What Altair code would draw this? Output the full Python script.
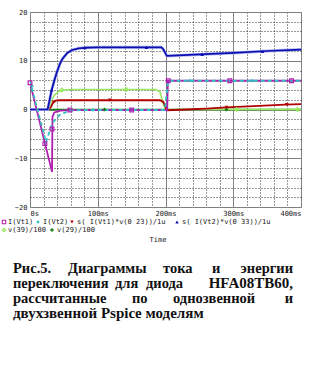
import altair as alt
import pandas as pd

# ---------------- data ----------------
# I(Vt1)  (magenta, squares)
t_i1 = [0, 32.5, 33.2, 36, 45, 60, 100, 150, 202.5, 203.5, 400]
v_i1 = [5.5, -12.8, -1.5, -0.6, -0.25, -0.12, -0.1, -0.1, -0.1, 5.9, 5.9]
# I(Vt2)  (cyan, dashed)
t_i2 = [0, 23.6, 29.5, 34, 44, 59, 80, 199, 204, 400]
v_i2 = [5.8, -6.7, -4.2, -2.6, -1.1, -0.2, -0.1, -0.1, 5.9, 5.9]
# s( I(Vt1)*v(0 23))/1u  (dark red)
t_e1 = [0, 27, 31, 34, 38, 44, 192, 197, 202, 230, 260, 290, 330, 376, 400]
v_e1 = [0, 0, 0.5, 1.4, 1.8, 1.9, 1.9, 1.5, -0.15, 0.0, 0.2, 0.45, 0.7, 1.0, 1.1]
# s( I(Vt2)*v(0 33))/1u  (blue)
t_e2 = [0, 26, 29, 32, 36, 40, 44, 48, 55, 62, 72, 85, 100, 194, 197, 202, 250, 300, 350, 400]
v_e2 = [0, 0, 2, 4, 6, 7.8, 9.3, 10.4, 11.6, 12.2, 12.55, 12.7, 12.75, 12.75, 12.3, 11.0, 11.3, 11.6, 12.0, 12.3]
# v(39)/100  (light green)
t_v39 = [0, 27, 31, 36, 42, 50, 60, 186, 192, 196, 200, 400]
v_v39 = [0, 0, 1.5, 3.0, 3.7, 4.0, 4.1, 4.1, 3.6, 1.5, 0, 0]
# v(29)/100  (dark green)
t_v29 = [0, 100, 200, 300, 400]
v_v29 = [0, 0, 0, 0, 0]

# marker positions on the traces
mk_i1_t = [0, 22, 32.5, 59, 150, 204, 295, 386]
mk_i1_v = [5.5, -7.0, -4.0, -0.1, -0.1, 5.9, 5.9, 5.9]
mk_i2_t = [3, 93, 236, 328]
mk_i2_v = [4.8, -0.1, 5.9, 5.9]
mk_e1_t = [35, 118, 290, 379]
mk_e1_v = [1.5, 1.9, 0.45, 1.0]
mk_e2_t = [32, 81, 172, 254, 343]
mk_e2_v = [4.0, 12.7, 12.75, 11.3, 11.9]
mk_v39_t = [47, 142, 305, 395]
mk_v39_v = [4.0, 4.1, 0, 0]
mk_v29_t = [110, 290]
mk_v29_v = [0, 0]

x_ticks = [0, 100, 200, 300, 400]
y_ticks = [-20, -10, 0, 10, 20]
x_minor = [t for t in range(20, 400, 20) if t % 100 != 0]
y_minor = [v for v in range(-18, 20, 2) if v % 10 != 0]

legend_labels = ["I(Vt1)", "I(Vt2)", "s( I(Vt1)*v(0 23))/1u", "s( I(Vt2)*v(0 33))/1u",
                 "v(39)/100", "v(29)/100"]
caption_lines = [
    ["Рис.5.", "Диаграммы", "тока", "и", "энергии"],
    ["переключения", "для", "диода", "HFA08TB60,"],
    ["рассчитанные", "по", "однозвенной", "и"],
    ["двухзвенной Pspice моделям"],
]

# ---------------- styling ----------------
MONO = "DejaVu Sans Mono"
SERIF = "Liberation Serif"
W, H = 271, 195
OX, OY = 30, 12

xs = alt.Scale(domain=[0, 400], nice=False, zero=False)
ys = alt.Scale(domain=[-20, 20], nice=False, zero=False)
AX = alt.Axis(values=x_ticks, labelExpr="datum.value == 0 ? '0s' : datum.value + 'ms'",
              grid=True, gridColor="#808080", gridWidth=1, gridOpacity=1, orient="bottom",
              ticks=False, domain=False, labelFont=MONO, labelFontSize=7,
              labelColor="#202020", labelPadding=2, labelFlush=True, title=None)
AY = alt.Axis(values=y_ticks, grid=True, gridColor="#808080", gridWidth=1, gridOpacity=1, orient="left",
              ticks=False, domain=False, labelFont=MONO, labelFontSize=7,
              labelColor="#202020", labelPadding=3, labelFlush=False, title=None)
# minor dotted grid drawn by a second (label-less) axis pair
AXm = alt.Axis(values=x_minor, grid=True, gridColor="#303030", gridWidth=1, gridOpacity=1,
               gridDash=[1, 2], orient="bottom", ticks=False, domain=False, labels=False, title=None)
AYm = alt.Axis(values=y_minor, grid=True, gridColor="#303030", gridWidth=1, gridOpacity=1,
               gridDash=[1, 2], orient="left", ticks=False, domain=False, labels=False, title=None)

dummy = pd.DataFrame({"d": [0]})
frame = pd.DataFrame({"t": [0, 400], "v": [-20, 20]})

minor = alt.Chart(frame).mark_point(opacity=0).encode(
    x=alt.X("t:Q", scale=xs, axis=AXm), y=alt.Y("v:Q", scale=ys, axis=AYm))
major = alt.Chart(frame).mark_point(opacity=0).encode(
    x=alt.X("t:Q", scale=xs, axis=AX), y=alt.Y("v:Q", scale=ys, axis=AY))

X = lambda: alt.X("t:Q", scale=xs, axis=None)
Y = lambda: alt.Y("v:Q", scale=ys, axis=None)


def line(t, v, color, width=1.8, dash=None):
    df = pd.DataFrame({"t": t, "v": v})
    kw = dict(color=color, strokeWidth=width, clip=True, interpolate="linear")
    if dash:
        kw["strokeDash"] = dash
    return alt.Chart(df).mark_line(**kw).encode(x=X(), y=Y())


def marks(t, v, color, shape, filled, size=16):
    df = pd.DataFrame({"t": t, "v": v})
    return alt.Chart(df).mark_point(shape=shape, filled=filled, color=color, size=size,
                                    strokeWidth=1.2, opacity=1).encode(x=X(), y=Y())


C_I1, C_I2, C_E1, C_E2, C_V39, C_V29 = "#b020b0", "#30c0c0", "#b00000", "#0a10b0", "#98e860", "#108010"

layers = [
    minor, major,
    line(t_v29, v_v29, C_V29, 1.6),
    line(t_v39, v_v39, C_V39, 1.6),
    line(t_e1, v_e1, C_E1, 1.8),
    line(t_e2, v_e2, "#b0b0f0", 3.0),
    line(t_e2, v_e2, C_E2, 1.7),
    line(t_i1, v_i1, C_I1, 1.8),
    line(t_i2, v_i2, C_I2, 1.8, dash=[4, 3]),
    marks(mk_v29_t, mk_v29_v, C_V29, "cross", True, 12),
    marks(mk_v39_t, mk_v39_v, C_V39, "diamond", False, 14),
    marks(mk_e1_t, mk_e1_v, C_E1, "triangle-down", True, 14),
    marks(mk_e2_t, mk_e2_v, C_E2, "triangle-up", True, 14),
    marks(mk_i2_t, mk_i2_v, C_I2, "diamond", True, 14),
    marks(mk_i1_t, mk_i1_v, C_I1, "square", False, 14),
]


def txt(s, x, y, size=7, font=MONO, align="left", weight="normal", color="#202020", baseline="middle"):
    return alt.Chart(dummy).mark_text(text=s, fontSize=size, font=font, align=align, baseline=baseline,
                                      fontWeight=weight, color=color).encode(
        x=alt.value(x - OX), y=alt.value(y - OY))


def sym(x, y, color, shape, filled, size=12):
    return alt.Chart(dummy).mark_point(shape=shape, filled=filled, color=color, size=size,
                                       strokeWidth=1.1, opacity=1).encode(
        x=alt.value(x - OX), y=alt.value(y - OY))


# PSpice-style legend under the axis
L1, L2 = 222, 230
layers += [
    sym(4, L1, C_I1, "square", False), txt(legend_labels[0], 8, L1),
    sym(38, L1, C_I2, "diamond", True), txt(legend_labels[1], 43, L1),
    sym(72, L1, C_E1, "triangle-down", True), txt(legend_labels[2], 77, L1),
    sym(177, L1, C_E2, "triangle-up", True), txt(legend_labels[3], 182, L1),
    sym(4, L2, C_V39, "diamond", False), txt(legend_labels[4], 8, L2),
    sym(52, L2, C_V29, "cross", True), txt(legend_labels[5], 57, L2),
    txt("Time", 158, 240, align="center"),
]

# justified caption (word positions)
word_x = [
    [13, 68, 163, 212, 293],
    [13, 115, 146, 293],
    [13, 132, 173, 293],
    [13],
]
base_y = [273, 288, 303, 318]
for li, words in enumerate(caption_lines):
    for wi, w in enumerate(words):
        last = (wi == len(words) - 1) and li < 3
        size = 15 if (w.startswith("HFA") or li == 3) else 14.5
        layers.append(txt(w, word_x[li][wi], base_y[li], size=size, font=SERIF,
                          align="right" if last else "left", weight="bold",
                          color="#111111", baseline="alphabetic"))

chart = alt.layer(*layers).resolve_axis(x="independent", y="independent").properties(
    width=W, height=H,
    autosize=alt.AutoSizeParams(type="none"),
    padding={"left": OX, "top": OY, "right": 317 - OX - W, "bottom": 369 - OY - H},
    background="white",
).configure_view(stroke="#a8a8a8", strokeWidth=1)

chart.save("out.html", embed_options={"renderer": "svg", "actions": False})
